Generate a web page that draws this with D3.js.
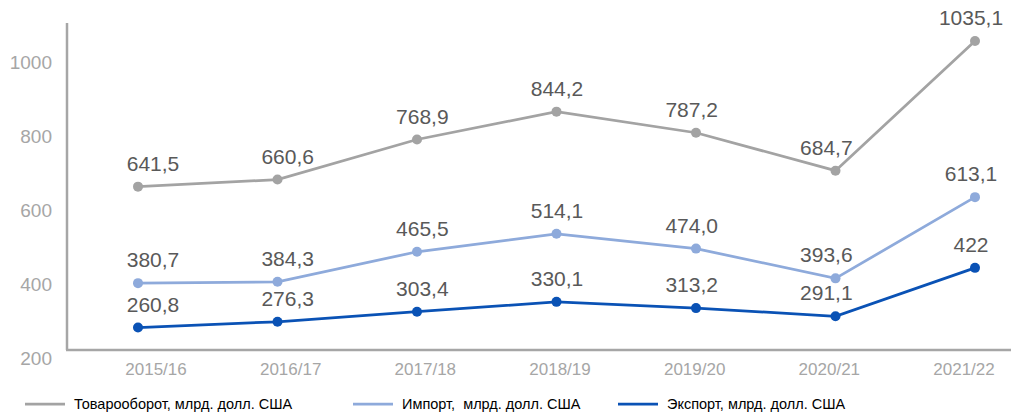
<!DOCTYPE html>
<html>
<head>
<meta charset="utf-8">
<script src="https://cdn.jsdelivr.net/npm/d3@7"></script>
<style>
  body { margin: 0; background: #fff; }
  .canvas text { font-family: "Liberation Sans", Arial, sans-serif; }
</style>
</head>
<body>
<div class="canvas"></div>
<script>
const years = ["2015/16", "2016/17", "2017/18", "2018/19", "2019/20", "2020/21", "2021/22"];
const turnover = [641.5, 660.6, 768.9, 844.2, 787.2, 684.7, 1035.1];
const imports = [380.7, 384.3, 465.5, 514.1, 474.0, 393.6, 613.1];
const exports = [260.8, 276.3, 303.4, 330.1, 313.2, 291.1, 422];
const yTicks = [200, 400, 600, 800, 1000];

const seriesNames = [
    "Товарооборот, млрд. долл. США",
    "Импорт,  млрд. долл. США",
    "Экспорт, млрд. долл. США"
];

let dims = { width: 1011, height: 412 };

const svg = d3
    .select(".canvas")
    .append("svg")
    .attr("width", dims.width)
    .attr("height", dims.height);

// points and category labels don't share spacing in the original
const x = d3.scalePoint().domain(years).range([138, 975]);
const xLab = d3.scalePoint().domain(years).range([156, 964]);
const y = d3.scaleLinear().domain([200, 1000]).range([350, 54]);

const comma = (d) => d.toFixed(1).replace(".", ",");

const series = [
    { name: seriesNames[0], values: turnover, color: "#a3a3a3", fmt: comma },
    { name: seriesNames[1], values: imports, color: "#8eaadb", fmt: comma },
    // the last export value is printed without decimals in the source
    { name: seriesNames[2], values: exports, color: "#0a52b5",
      fmt: (d, i) => (i === exports.length - 1 ? String(d) : comma(d)) }
];

// axes
svg.append("line")
    .attr("x1", 67).attr("x2", 67)
    .attr("y1", y(1084)).attr("y2", y(200))
    .attr("stroke", "#a6a6a6").attr("stroke-width", 2.5);
svg.append("line")
    .attr("x1", 66).attr("x2", dims.width)
    .attr("y1", y(200)).attr("y2", y(200))
    .attr("stroke", "#a6a6a6").attr("stroke-width", 2.5);

svg.append("g")
    .selectAll("text")
    .data(yTicks)
    .enter()
    .append("text")
    .attr("x", 52)
    .attr("y", (d) => y(d) + 8)
    .attr("dy", "0.35em")
    .attr("text-anchor", "end")
    .attr("font-size", 19)
    .attr("fill", "#a6a6a6")
    .text((d) => d);

svg.append("g")
    .selectAll("text")
    .data(years)
    .enter()
    .append("text")
    .attr("x", (d) => xLab(d))
    .attr("y", 375)
    .attr("text-anchor", "middle")
    .attr("font-size", 17)
    .attr("fill", "#a6a6a6")
    .text((d) => d);

const line = d3
    .line()
    .x((d, i) => x(years[i]))
    .y((d) => y(d));

const groups = svg
    .selectAll("g.series")
    .data(series)
    .enter()
    .append("g")
    .attr("class", "series");

groups.append("path")
    .attr("d", (d) => line(d.values))
    .attr("fill", "none")
    .attr("stroke", (d) => d.color)
    .attr("stroke-width", 2.75);

groups.each(function (s) {
    const g = d3.select(this);
    g.selectAll("circle")
        .data(s.values)
        .enter()
        .append("circle")
        .attr("cx", (d, i) => x(years[i]))
        .attr("cy", (d) => y(d))
        .attr("r", 5)
        .attr("fill", s.color);
    g.selectAll("text")
        .data(s.values)
        .enter()
        .append("text")
        .attr("x", (d, i) => (i === years.length - 1 ? x(years[i]) - 4 : xLab(years[i]) - 3))
        .attr("y", (d) => y(d) - 16)
        .attr("text-anchor", "middle")
        .attr("font-size", 21)
        .attr("fill", "#595959")
        .text((d, i) => s.fmt(d, i));
});

// legend
const legendX = [25, 353, 618];
const legend = svg
    .selectAll("g.legend")
    .data(series)
    .enter()
    .append("g")
    .attr("class", "legend")
    .attr("transform", (d, i) => `translate(${legendX[i]},404)`);

legend.append("line")
    .attr("x1", 0).attr("x2", 40)
    .attr("stroke", (d) => d.color)
    .attr("stroke-width", 2.75);

legend.append("text")
    .attr("x", 49)
    .attr("dy", "0.35em")
    .attr("font-size", 14.5)
    .style("white-space", "pre")
    .attr("fill", "#000")
    .text((d) => d.name);
</script>
</body>
</html>
